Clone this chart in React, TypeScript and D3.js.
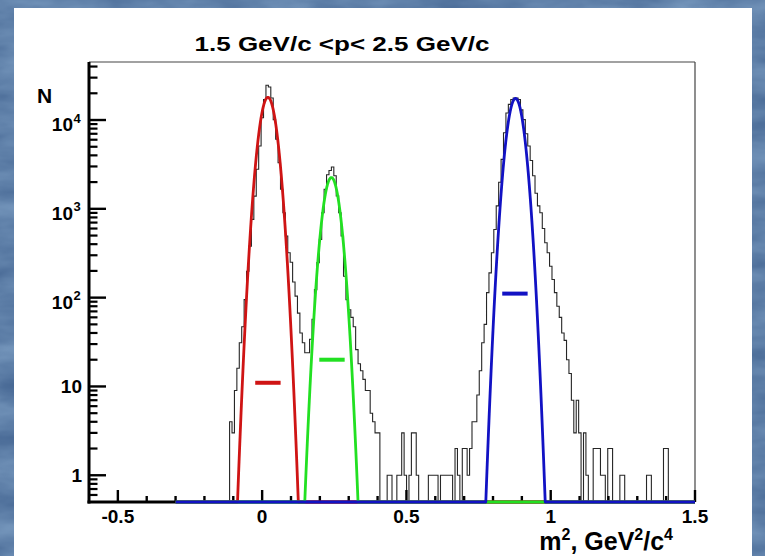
import React from 'react';
import * as d3 from 'd3';

// ---------- data ----------
const binLow = -0.6;
const binHigh = 1.5;
const nBins = 250;
const firstBin = 58; // index of first listed bin
const counts = [
  4, 3, 9, 16, 31, 47, 95, 198, 380, 760, // 58-67
  1390, 2790, 5100, 10600, 17000, 24600, 23500, 17700, 10100, 6100, // 68-77
  3300, 1660, 905, 495, 320, 250, 150, 104, 67, 40, // 78-87
  31, 24, 24, 34, 57, 123, 248, 453, 905, 1660, // 88-97
  2420, 2700, 2960, 2360, 1400, 905, 495, 174, 95, 73, // 98-107
  60, 47, 26, 18, 15, 12, 9, 9, 5, 4, // 108-117
  3, 3, 0, 0, 0, 1, 1, 0, 0, 1, // 118-127
  1, 3, 1, 0, 1, 3, 3, 1, 0, 0, // 128-137
  0, 0, 1, 1, 1, 1, 0, 1, 1, 1, // 138-147
  1, 1, 0, 2, 1, 0, 2, 2, 1, 2, // 148-157
  4, 4, 8, 15, 31, 50, 114, 190, 320, 585, // 158-167
  1080, 1990, 3600, 7200, 12000, 15000, 17000, 17700, 17700, 17000, // 168-177
  13000, 10100, 7000, 5100, 3500, 2360, 1500, 1080, 905, 600, // 178-187
  415, 320, 226, 160, 114, 80, 60, 40, 33, 20, // 188-197
  14, 7, 3, 7, 3, 0, 3, 1, 0, 0, // 198-207
  2, 2, 2, 1, 1, 0, 2, 2, 0, 0, // 208-217
  0, 1, 1, 0, 0, 0, 0, 0, 0, 0, // 218-227
  0, 0, 1, 1, 0, 0, 0, 0, 0, 2, // 228-237
  2, // 238
];

const fitAmp = [18000, 2250, 17500];
const fitMean = [0.02, 0.24, 0.878];
const fitSigma = [0.023, 0.0225, 0.0225];
const fitFrom = [-0.3, -0.3, -0.3];
const fitTo = [1.5, 1.5, 1.5];
const fitColor = ['#cf1414', '#22e022', '#1212c4'];

const markX = [0.02, 0.242, 0.876];
const markY = [11, 20, 111];
const markHalf = 0.044;

const xTickValues = [-0.5, 0, 0.5, 1, 1.5];
const xTickLabels = ['-0.5', '0', '0.5', '1', '1.5'];
const yTickValues = [1, 10, 100, 1000, 10000];
const yTickBase = ['1', '10', '10', '10', '10'];
const yTickExp = ['', '', '2', '3', '4'];

const title = '1.5 GeV/c <p< 2.5 GeV/c';

// ---------- layout ----------
const W = 765;
const H = 556;
const L = 89, R = 695, T = 62, B = 502;
const yMin = 0.5, yMax = 45000;
const FONT = '"Liberation Sans", Arial, Helvetica, sans-serif';

export default function App() {
  const x = d3.scaleLinear().domain([binLow, binHigh]).range([L, R]);
  const y = d3.scaleLog().domain([yMin, yMax]).range([B, T]);
  const yc = (v: number) => (v <= yMin ? y(yMin) : y(v));

  // histogram step path
  const bw = (binHigh - binLow) / nBins;
  let hp = `M${x(binLow)},${yc(0)}`;
  for (let k = 0; k < nBins; k++) {
    const i = k - firstBin;
    const v = i >= 0 && i < counts.length ? counts[i] : 0;
    const yy = yc(v);
    hp += `L${x(binLow + k * bw)},${yy}L${x(binLow + (k + 1) * bw)},${yy}`;
  }

  const line = d3
    .line<[number, number]>()
    .x((d) => x(d[0]))
    .y((d) => yc(d[1]));

  const fits = fitAmp.map((A, j) => {
    const pts: [number, number][] = [];
    const n = Math.round((fitTo[j] - fitFrom[j]) / 0.0005);
    for (let i = 0; i <= n; i++) {
      const xv = fitFrom[j] + (i * (fitTo[j] - fitFrom[j])) / n;
      const z = (xv - fitMean[j]) / fitSigma[j];
      pts.push([xv, A * Math.exp(-0.5 * z * z)]);
    }
    return line(pts) as string;
  });

  // ticks
  const xMinor = d3.range(-5, 16).map((i) => i / 10);
  const yMinor: number[] = [];
  for (let e = -1; e <= 4; e++) {
    for (let m = 2; m <= 9; m++) {
      const v = m * Math.pow(10, e);
      if (v > yMin && v < yMax) yMinor.push(v);
    }
  }

  return (
    <svg
      width={W}
      height={H}
      style={{ position: 'absolute', left: 0, top: 0, display: 'block' }}
      fontFamily={FONT}
    >
      <defs>
        <filter id="tex" x="0" y="0" width="100%" height="100%" colorInterpolationFilters="sRGB">
          <feTurbulence type="fractalNoise" baseFrequency="0.012 0.035" numOctaves="4" seed="7" />
          <feColorMatrix
            type="matrix"
            values="0.28 0 0 0 0.23  0.28 0 0 0 0.36  0.24 0 0 0 0.54  0 0 0 0 1"
          />
        </filter>
      </defs>
      <rect x={0} y={0} width={W} height={H} fill="#5b7dab" />
      <rect x={0} y={0} width={W} height={H} filter="url(#tex)" />
      <rect x={14} y={8} width={738} height={H - 8} fill="#ffffff" />

      {/* title */}
      <text
        x={342}
        y={51}
        textAnchor="middle"
        fontSize={21}
        fontWeight="bold"
        textLength={295}
        lengthAdjust="spacingAndGlyphs"
        fill="#000"
      >
        {title}
      </text>

      {/* frame (top/right) */}
      <line x1={L} x2={R} y1={T} y2={T} stroke="#444" strokeWidth={1.2} />
      <line x1={R} x2={R} y1={T} y2={B} stroke="#444" strokeWidth={1.2} />

      {/* histogram */}
      <path d={hp} fill="none" stroke="#262626" strokeWidth={1.1} />

      {/* axes */}
      <line x1={L} x2={L} y1={T} y2={B + 1.5} stroke="#000" strokeWidth={3} />
      <line x1={L - 1.5} x2={R} y1={B} y2={B} stroke="#000" strokeWidth={3} />

      {/* y ticks */}
      {yTickValues.map((v) => (
        <line key={'ym' + v} x1={L} x2={L + 17} y1={y(v)} y2={y(v)} stroke="#000" strokeWidth={2.4} />
      ))}
      {yMinor.map((v) => (
        <line key={'yn' + v} x1={L} x2={L + 8.5} y1={y(v)} y2={y(v)} stroke="#000" strokeWidth={2.2} />
      ))}

      {/* x ticks */}
      {xMinor.map((v) => {
        const major = Math.abs(v * 2 - Math.round(v * 2)) < 1e-6;
        return (
          <line
            key={'xt' + v}
            x1={x(v)}
            x2={x(v)}
            y1={B}
            y2={B - (major ? 12 : 6)}
            stroke="#000"
            strokeWidth={2.4}
          />
        );
      })}

      {/* fits */}
      {fits.map((d, j) => (
        <path key={'f' + j} d={d} fill="none" stroke={fitColor[j]} strokeWidth={2.8} strokeLinejoin="round" />
      ))}

      {/* marks */}
      {markX.map((mx, j) => (
        <line
          key={'mk' + j}
          x1={x(mx - markHalf)}
          x2={x(mx + markHalf)}
          y1={y(markY[j])}
          y2={y(markY[j])}
          stroke={fitColor[j]}
          strokeWidth={4}
        />
      ))}

      {/* x tick labels */}
      {xTickValues.map((v, i) => (
        <text key={'xl' + v} x={x(v)} y={523} textAnchor="middle" fontSize={19} fontWeight="bold" fill="#000">
          {xTickLabels[i]}
        </text>
      ))}

      {/* y tick labels */}
      {yTickValues.map((v, i) =>
        yTickExp[i] === '' ? (
          <text key={'yl' + v} x={82} y={y(v) + 7} textAnchor="end" fontSize={19} fontWeight="bold" fill="#000">
            {yTickBase[i]}
          </text>
        ) : (
          <g key={'yl' + v}>
            <text x={73} y={y(v) + 11} textAnchor="end" fontSize={19} fontWeight="bold" fill="#000">
              {yTickBase[i]}
            </text>
            <text x={73.5} y={y(v) + 2.5} textAnchor="start" fontSize={13} fontWeight="bold" fill="#000">
              {yTickExp[i]}
            </text>
          </g>
        )
      )}

      {/* axis titles */}
      <text x={44.5} y={103} textAnchor="middle" fontSize={21} fontWeight="bold" fill="#000">
        N
      </text>
      <text x={673} y={550} textAnchor="end" fontSize={25} fontWeight="bold" fill="#000">
        <tspan>m</tspan>
        <tspan dy={-10} fontSize={16}>2</tspan>
        <tspan dy={10}>, GeV</tspan>
        <tspan dy={-10} fontSize={16}>2</tspan>
        <tspan dy={10}>/c</tspan>
        <tspan dy={-10} fontSize={16}>4</tspan>
      </text>
    </svg>
  );
}
